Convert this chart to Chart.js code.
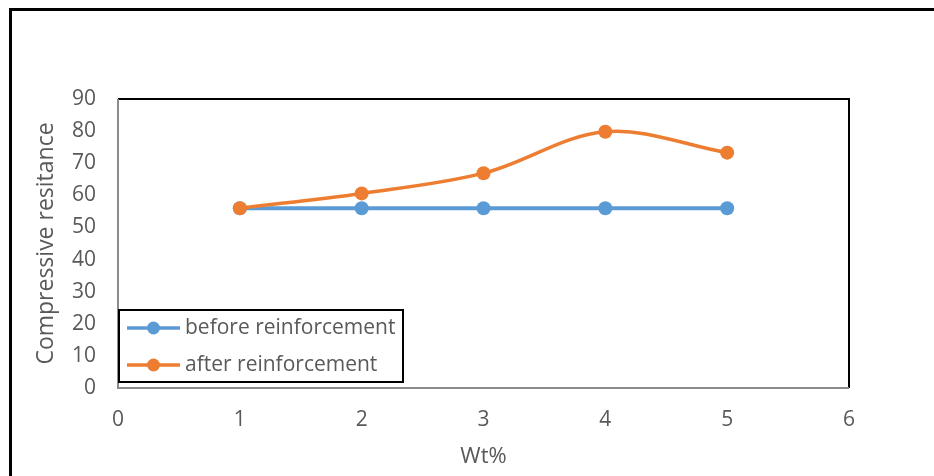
<!DOCTYPE html>
<html>
<head>
<meta charset="utf-8">
<script src="https://cdn.jsdelivr.net/npm/chart.js@4"></script>
<style>
html,body{margin:0;padding:0;background:#fff;}
#wrap{position:relative;width:934px;height:476px;}
canvas{display:block;}
</style>
</head>
<body>
<div id="wrap"><canvas id="c" width="934" height="476"></canvas></div>
<script>
const categories = [1, 2, 3, 4, 5];
const beforeValues = [56, 56, 56, 56, 56];
const afterValues = [56, 60.6, 66.9, 79.8, 73.3];
const xTicks = [0, 1, 2, 3, 4, 5, 6];
const yTicks = [0, 10, 20, 30, 40, 50, 60, 70, 80, 90];
const seriesNames = ['before reinforcement', 'after reinforcement'];
const seriesColors = ['#5B9BD5', '#ED7D31'];

const FONT = '"Open Sans", "Noto Sans", sans-serif';
const TXT = '#595959';

const frame = {
  id: 'frame',
  beforeDraw(chart) {
    const ctx = chart.ctx;
    ctx.save();
    ctx.fillStyle = '#fff';
    ctx.fillRect(0, 0, chart.width, chart.height);
    ctx.strokeStyle = '#000';
    ctx.lineWidth = 3;
    ctx.strokeRect(10.5, 9.5, 1000, 1000);
    ctx.restore();
  },
  afterDraw(chart) {
    const ctx = chart.ctx;
    const a = chart.chartArea;
    ctx.save();
    ctx.lineWidth = 2;
    ctx.strokeStyle = '#000';
    ctx.beginPath();
    ctx.moveTo(a.left, a.top);
    ctx.lineTo(a.right, a.top);
    ctx.lineTo(a.right, a.bottom);
    ctx.stroke();
    ctx.strokeStyle = '#8c8c8c';
    ctx.beginPath();
    ctx.moveTo(a.left, a.top);
    ctx.lineTo(a.left, a.bottom);
    ctx.lineTo(a.right, a.bottom);
    ctx.stroke();
    const lx = 119, ly = 310, lw = 284, lh = 72;
    ctx.fillStyle = '#fff';
    ctx.fillRect(lx, ly, lw, lh);
    ctx.strokeStyle = '#000';
    ctx.lineWidth = 2;
    ctx.strokeRect(lx, ly, lw, lh);
    const rows = [328, 365];
    chart.data.datasets.forEach((ds, i) => {
      const y = rows[i];
      ctx.strokeStyle = ds.borderColor;
      ctx.lineWidth = 3.5;
      ctx.beginPath();
      ctx.moveTo(127, y);
      ctx.lineTo(180, y);
      ctx.stroke();
      ctx.fillStyle = ds.borderColor;
      ctx.beginPath();
      ctx.arc(153.5, y, 6.5, 0, Math.PI * 2);
      ctx.fill();
      ctx.fillStyle = TXT;
      ctx.font = '21px ' + FONT;
      ctx.textBaseline = 'middle';
      ctx.textAlign = 'left';
      ctx.fillText(ds.label, 185, y);
    });
    ctx.restore();
  }
};

new Chart(document.getElementById('c'), {
  type: 'line',
  data: {
    datasets: [
      {
        label: seriesNames[0],
        data: categories.map((x, i) => ({x, y: beforeValues[i]})),
        borderColor: seriesColors[0],
        backgroundColor: seriesColors[0],
        borderWidth: 4,
        pointRadius: 7,
        pointHoverRadius: 7,
        pointBorderWidth: 0,
        tension: 0,
        order: 1
      },
      {
        label: seriesNames[1],
        data: categories.map((x, i) => ({x, y: afterValues[i]})),
        borderColor: seriesColors[1],
        backgroundColor: seriesColors[1],
        borderWidth: 3.5,
        pointRadius: 7,
        pointHoverRadius: 7,
        pointBorderWidth: 0,
        tension: 0.35,
        order: 0
      }
    ]
  },
  options: {
    responsive: false,
    animation: false,
    layout: { padding: { left: 0, top: 99, right: 85, bottom: 0 } },
    plugins: { legend: { display: false }, tooltip: { enabled: false } },
    scales: {
      x: {
        type: 'linear',
        min: 0, max: 6,
        afterFit(s) { s.height = 88; },
        afterBuildTicks(s) { s.ticks = xTicks.map(v => ({value: v})); },
        grid: { display: false, drawTicks: false },
        border: { display: false },
        ticks: { color: TXT, font: { family: FONT, size: 21 }, padding: 19 },
        title: { display: true, text: 'Wt%', color: TXT, font: { family: FONT, size: 22 }, padding: { top: 0, bottom: 6 } }
      },
      y: {
        min: 0, max: 90,
        afterFit(s) { s.width = 118; },
        afterBuildTicks(s) { s.ticks = yTicks.map(v => ({value: v})); },
        grid: { display: false, drawTicks: false },
        border: { display: false },
        ticks: { color: TXT, font: { family: FONT, size: 21 }, padding: 22 },
        title: { display: true, text: 'Compressive resitance', color: TXT, font: { family: FONT, size: 23 }, padding: { top: 33, bottom: 0 } }
      }
    }
  },
  plugins: [frame]
});
</script>
</body>
</html>
